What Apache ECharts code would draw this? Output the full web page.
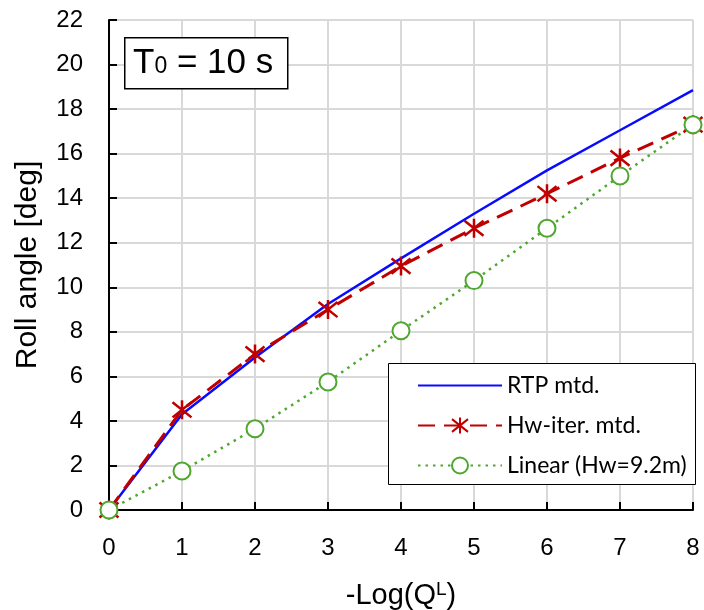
<!DOCTYPE html>
<html><head><meta charset="utf-8">
<script src="https://cdn.jsdelivr.net/npm/echarts@6/dist/echarts.min.js"></script>
<style>html,body{margin:0;padding:0;background:#fff}#c{width:704px;height:610px}</style>
</head><body><div id="c"></div>
<script>
const xValues = [0, 1, 2, 3, 4, 5, 6, 7, 8];
const rtpValues = [0, 4.3, 6.85, 9.25, 11.3, 13.3, 15.25, 17.05, 18.85];
const hwIterValues = [0, 4.5, 7.0, 9.0, 10.95, 12.65, 14.2, 15.8, 17.3];
const linearValues = [0, 1.75, 3.65, 5.75, 8.05, 10.3, 12.65, 15.0, 17.3];
const seriesNames = ['RTP mtd.', 'Hw-iter. mtd.', 'Linear (Hw=9.2m)'];
const titleText = '{t|T}{s|0}{t| = 10 s}';

const pair = (ys) => xValues.map((x, i) => [x, ys[i]]);
const star = 'path://M0,-1L0,1M-0.8,-0.8L0.8,0.8M-0.8,0.8L0.8,-0.8';
const chart = echarts.init(document.getElementById('c'));
chart.setOption({
  animation: false,
  grid: {left: 109, right: 11, top: 20, bottom: 100, containLabel: false, outerBoundsMode: 'none'},
  xAxis: {
    type: 'value', min: 0, max: 8, interval: 1,
    axisLine: {lineStyle: {color: '#000', width: 2}},
    axisTick: {inside: true, length: 8, lineStyle: {color: '#000', width: 2}},
    splitLine: {lineStyle: {color: '#d9d9d9', width: 2}},
    axisLabel: {color: '#000', fontSize: 24, fontFamily: 'Liberation Sans', margin: 26},
    name: '-Log(Q{sup|L})', nameLocation: 'middle', nameGap: 70,
    nameTextStyle: {color: '#000', fontSize: 29, fontFamily: 'Liberation Sans',
      rich: {sup: {fontSize: 19, verticalAlign: 'top', padding: [0, 0, 12, 0], fontFamily: 'Liberation Sans'}}}
  },
  yAxis: {
    type: 'value', min: 0, max: 22, interval: 2,
    axisLine: {show: true, lineStyle: {color: '#000', width: 2}},
    axisTick: {show: true, inside: true, length: 8, lineStyle: {color: '#000', width: 2}},
    splitLine: {lineStyle: {color: '#d9d9d9', width: 2}},
    axisLabel: {color: '#000', fontSize: 24, fontFamily: 'Liberation Sans', margin: 26},
    name: 'Roll angle [deg]', nameLocation: 'middle', nameGap: 66, nameRotate: 90,
    nameTextStyle: {color: '#000', fontSize: 30, fontFamily: 'Liberation Sans'}
  },
  legend: {
    left: 412, top: 369, orient: 'vertical', itemWidth: 84, itemHeight: 20, itemGap: 17, itemTextGap: 9,
    textStyle: {color: '#000', fontSize: 23, fontFamily: 'Lato'},
    data: [
      {name: seriesNames[0], itemStyle: {opacity: 0}},
      {name: seriesNames[1]},
      {name: seriesNames[2]}
    ]
  },
  graphic: [
    {type: 'rect', left: 124, top: 37, shape: {width: 163, height: 51}, z: 10,
     style: {fill: '#fff', stroke: '#000', lineWidth: 1.5}},
    {type: 'text', left: 133, top: 46, z: 11,
     style: {text: titleText, rich: {
       t: {fontSize: 35, fontFamily: 'Liberation Sans', fill: '#000'},
       s: {fontSize: 23, fontFamily: 'Liberation Sans', fill: '#000', verticalAlign: 'bottom', padding: [0, 0, 3, 0]}}}},
    {type: 'rect', left: 388, top: 363, shape: {width: 307, height: 121}, z: 1,
     style: {fill: '#fff', stroke: '#000', lineWidth: 1}}
  ],
  series: [
    {name: seriesNames[0], type: 'line', data: pair(rtpValues), symbol: 'none',
     lineStyle: {color: '#0a0aff', width: 2.5}, itemStyle: {color: '#0a0aff'}},
    {name: seriesNames[1], type: 'line', data: pair(hwIterValues), symbol: star, symbolSize: 19,
     lineStyle: {color: '#c00000', width: 3, type: [17, 9]},
     itemStyle: {color: '#c00000', borderColor: '#c00000', borderWidth: 2.5}},
    {name: seriesNames[2], type: 'line', data: pair(linearValues), symbol: 'emptyCircle', symbolSize: 17,
     lineStyle: {color: '#4ea72e', width: 2.5, type: [2.5, 5]},
     itemStyle: {color: '#4ea72e', borderWidth: 1.5}}
  ]
});
</script></body></html>
